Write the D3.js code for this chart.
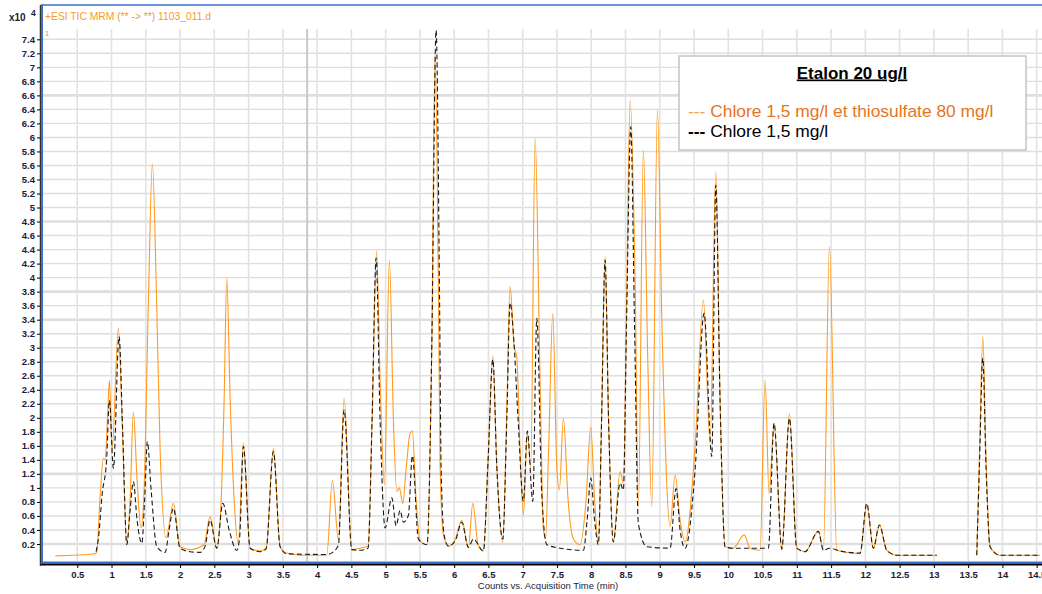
<!DOCTYPE html>
<html>
<head>
<meta charset="utf-8">
<script src="https://cdn.jsdelivr.net/npm/d3@7"></script>
<style>
body{margin:0;background:#fff;}
svg{display:block;font-family:"Liberation Sans",Arial,sans-serif;}
</style>
</head>
<body>
<script>
//chromatogram points: [time (min), counts x10^4]
var orangePoints = [[0.18,0.03],[0.76,0.06],[0.785,0.09],[0.833,0.87],[0.881,1.42],[0.906,1.40],[0.94,1.97],[0.969,2.54],[1.008,1.54],[1.1,3.28],[1.154,1.97],[1.223,0.19],[1.271,0.83],[1.319,2.08],[1.373,1.11],[1.431,0.43],[1.475,0.97],[1.538,3.66],[1.596,5.62],[1.661,3.54],[1.709,1.54],[1.796,0.29],[1.903,0.78],[2.0,0.16],[2.147,0.12],[2.351,0.19],[2.438,0.59],[2.536,0.14],[2.6,0.83],[2.643,2.25],[2.682,3.99],[2.73,2.3],[2.789,0.83],[2.851,0.21],[2.924,1.64],[3.022,0.14],[3.168,0.1],[3.256,0.14],[3.362,1.56],[3.46,0.16],[3.558,0.07],[3.752,0.04],[4.141,0.04],[4.223,1.11],[4.311,0.26],[4.394,2.28],[4.506,0.12],[4.627,0.14],[4.744,0.17],[4.802,1.97],[4.868,4.38],[4.919,2.54],[4.982,1.05],[5.055,4.25],[5.113,1.98],[5.163,0.95],[5.2,1.0],[5.25,0.78],[5.298,1.26],[5.357,1.78],[5.39,1.81],[5.444,0.83],[5.503,0.24],[5.605,0.19],[5.673,3.0],[5.721,7.21],[5.77,3.84],[5.795,1.31],[5.843,0.33],[5.916,0.17],[6.014,0.26],[6.111,0.54],[6.208,0.15],[6.272,0.78],[6.349,0.19],[6.426,0.1],[6.495,1.4],[6.564,2.88],[6.622,1.31],[6.709,0.22],[6.768,2.14],[6.816,3.88],[6.874,3.03],[6.914,2.86],[6.962,1.54],[7.01,0.61],[7.068,1.78],[7.118,1.3],[7.181,5.99],[7.254,2.52],[7.302,0.41],[7.334,0.27],[7.378,1.54],[7.439,3.49],[7.497,1.31],[7.535,0.97],[7.594,1.99],[7.662,0.83],[7.74,0.27],[7.837,0.19],[7.925,0.83],[7.993,1.87],[8.049,0.83],[8.104,0.21],[8.151,1.97],[8.202,4.30],[8.253,1.97],[8.323,0.23],[8.421,1.23],[8.469,1.07],[8.516,3.68],[8.567,6.53],[8.64,3.97],[8.688,0.73],[8.761,5.82],[8.822,2.97],[8.884,0.73],[8.966,6.39],[9.034,3.25],[9.151,0.45],[9.224,1.18],[9.297,0.54],[9.37,0.23],[9.516,1.59],[9.637,3.68],[9.735,1.64],[9.818,5.51],[9.88,2.25],[9.953,0.16],[10.07,0.14],[10.233,0.33],[10.318,0.14],[10.464,0.11],[10.537,2.54],[10.595,0.92],[10.668,1.92],[10.781,0.11],[10.892,2.06],[10.999,0.14],[11.12,0.09],[11.315,0.38],[11.388,0.11],[11.476,4.44],[11.583,0.11],[11.923,0.06],[12.021,0.76],[12.117,0.14],[12.205,0.47],[12.313,0.11],[12.459,0.04],[13.042,0.04],[13.3,null],[13.626,0.04],[13.667,1.54],[13.714,3.16],[13.762,1.4],[13.82,0.16],[13.966,0.04],[14.55,0.04]];

var blackPoints = [[0.775,0.09],[0.811,0.3],[0.862,0.9],[0.928,1.4],[0.969,2.25],[1.027,1.28],[1.11,3.16],[1.162,1.83],[1.223,0.19],[1.271,0.68],[1.319,1.09],[1.373,0.54],[1.442,0.21],[1.483,0.83],[1.523,1.66],[1.578,0.97],[1.661,0.16],[1.782,0.08],[1.84,0.4],[1.903,0.71],[2.0,0.14],[2.147,0.09],[2.293,0.08],[2.366,0.17],[2.438,0.54],[2.536,0.14],[2.624,0.78],[2.716,0.4],[2.828,0.11],[2.87,0.3],[2.924,1.59],[3.022,0.14],[3.168,0.09],[3.256,0.13],[3.362,1.52],[3.46,0.16],[3.558,0.06],[4.141,0.05],[4.238,0.09],[4.311,0.19],[4.394,2.11],[4.506,0.12],[4.627,0.11],[4.744,0.14],[4.802,1.97],[4.861,4.28],[4.919,1.97],[4.992,0.43],[5.09,0.86],[5.153,0.46],[5.211,0.68],[5.259,0.51],[5.332,0.61],[5.39,1.46],[5.478,0.27],[5.605,0.19],[5.673,3.0],[5.736,7.53],[5.787,3.68],[5.809,1.31],[5.853,0.33],[5.916,0.17],[6.014,0.24],[6.111,0.51],[6.208,0.15],[6.28,0.27],[6.426,0.1],[6.495,1.4],[6.564,2.83],[6.622,1.31],[6.709,0.27],[6.768,1.97],[6.816,3.64],[6.874,3.05],[6.933,1.97],[7.01,0.81],[7.068,1.81],[7.147,0.81],[7.206,3.42],[7.279,0.9],[7.352,0.19],[7.546,0.14],[7.886,0.11],[7.94,0.54],[7.993,1.14],[8.049,0.54],[8.104,0.19],[8.151,1.97],[8.202,4.25],[8.253,1.97],[8.323,0.23],[8.421,1.07],[8.469,0.97],[8.516,3.4],[8.577,6.15],[8.633,3.25],[8.688,0.49],[8.811,0.16],[9.151,0.14],[9.238,0.99],[9.297,0.4],[9.37,0.14],[9.516,1.26],[9.647,3.49],[9.759,1.45],[9.818,5.32],[9.88,2.25],[9.953,0.16],[10.07,0.14],[10.585,0.14],[10.668,1.92],[10.781,0.13],[10.892,1.99],[10.999,0.14],[11.12,0.09],[11.315,0.38],[11.388,0.11],[11.476,0.14],[11.632,0.1],[11.923,0.07],[12.021,0.78],[12.117,0.14],[12.205,0.47],[12.313,0.11],[12.459,0.04],[13.042,0.04],[13.3,null],[13.626,0.04],[13.667,1.4],[13.714,2.85],[13.762,1.26],[13.82,0.16],[13.966,0.04],[14.55,0.04]];

//tick labels
var xTicks = [0.5,1,1.5,2,2.5,3,3.5,4,4.5,5,5.5,6,6.5,7,7.5,8,8.5,9,9.5,10,10.5,11,11.5,12,12.5,13,13.5,14,14.5];
var yTicks = [0.2,0.4,0.6,0.8,1,1.2,1.4,1.6,1.8,2,2.2,2.4,2.6,2.8,3,3.2,3.4,3.6,3.8,4,4.2,4.4,4.6,4.8,5,5.2,5.4,5.6,5.8,6,6.2,6.4,6.6,6.8,7,7.2,7.4];
var thickY = [0.2,1.2,3.4,3.8,4.8,6.6];

//legend texts
var legendTitle = "Etalon 20 ug/l";
var seriesNames = ["Chlore 1,5 mg/l et thiosulfate 80 mg/l", "Chlore 1,5 mg/l"];

//SVG dimension variables
var w = 1042, h = 594;
var plotL = 43, plotR = 1042, plotT = 29, plotB = 561;

var svg = d3.select("body")
    .append("svg")
    .attr("width", w)
    .attr("height", h);

var x = d3.scaleLinear().domain([0, 14]).range([43, 1002.4]);
var y = d3.scaleLinear().domain([0, 7.4]).range([558, 39.3]);

//grid
var grid = svg.append("g");
grid.selectAll(".gy").data(yTicks).join("line")
    .attr("x1", plotL).attr("x2", plotR)
    .attr("y1", function(d){ return y(d); })
    .attr("y2", function(d){ return y(d); })
    .attr("stroke", "#dedede")
    .attr("stroke-width", function(d){ return thickY.indexOf(d) >= 0 ? 2.6 : 1.4; });
grid.selectAll(".gx").data(xTicks).join("line")
    .attr("x1", function(d){ return x(d); })
    .attr("x2", function(d){ return x(d); })
    .attr("y1", plotT).attr("y2", plotB)
    .attr("stroke", "#e2e2e2")
    .attr("stroke-width", 1.6);
//darker marker line
grid.append("line")
    .attr("x1", x(3.855)).attr("x2", x(3.855))
    .attr("y1", plotT).attr("y2", plotB)
    .attr("stroke", "#c9c9c9").attr("stroke-width", 2);

//traces
svg.append("clipPath").attr("id", "clip")
    .append("rect")
    .attr("x", plotL).attr("y", plotT)
    .attr("width", plotR - plotL).attr("height", plotB - plotT);

var line = d3.line()
    .defined(function(d){ return d[1] !== null; })
    .x(function(d){ return x(d[0]); })
    .y(function(d){ return y(d[1]); })
    .curve(d3.curveMonotoneX);

svg.append("path")
    .datum(orangePoints)
    .attr("clip-path", "url(#clip)")
    .attr("d", line)
    .attr("fill", "none")
    .attr("stroke", "#ff9a1e")
    .attr("stroke-width", 1.1);

svg.append("path")
    .datum(blackPoints)
    .attr("clip-path", "url(#clip)")
    .attr("d", line)
    .attr("fill", "none")
    .attr("stroke", "#1a1a1a")
    .attr("stroke-width", 1.1)
    .attr("stroke-dasharray", "5,3");

//frame
svg.append("line").attr("x1", 41).attr("x2", w).attr("y1", 5).attr("y2", 5)
    .attr("stroke", "#3d6fc9").attr("stroke-width", 1.6);
svg.append("line").attr("x1", 40.3).attr("x2", 40.3).attr("y1", 5).attr("y2", 566)
    .attr("stroke", "#000").attr("stroke-width", 1);
svg.append("line").attr("x1", 42).attr("x2", 42).attr("y1", 4.2).attr("y2", 563)
    .attr("stroke", "#3d6fc9").attr("stroke-width", 2);
svg.append("line").attr("x1", 41).attr("x2", w).attr("y1", 562.5).attr("y2", 562.5)
    .attr("stroke", "#3d6fc9").attr("stroke-width", 2);
svg.append("line").attr("x1", 41).attr("x2", w).attr("y1", 564.5).attr("y2", 564.5)
    .attr("stroke", "#000").attr("stroke-width", 2);

//axes
var xAxis = svg.append("g")
    .attr("transform", "translate(0,565)")
    .call(d3.axisBottom(x).tickValues(xTicks).tickSize(3).tickPadding(3).tickFormat(d3.format("~g")));
var yAxis = svg.append("g")
    .attr("transform", "translate(40,0)")
    .call(d3.axisLeft(y).tickValues(yTicks).tickSize(3).tickPadding(2).tickFormat(d3.format("~g")));
[xAxis, yAxis].forEach(function(a){
    a.select(".domain").remove();
    a.selectAll(".tick line").attr("stroke", "#000");
    a.selectAll(".tick text")
        .attr("fill", "#1c1c38")
        .style("font-family", "'Liberation Sans',Arial,sans-serif")
        .style("font-size", "9.5px")
        .style("font-weight", "bold");
});

svg.append("text")
    .attr("x", 548).attr("y", 589)
    .attr("text-anchor", "middle")
    .style("font-size", "9.5px")
    .attr("fill", "#1c1c38")
    .text("Counts vs. Acquisition Time (min)");

//header
svg.append("text").attr("x", 45).attr("y", 19.5)
    .style("font-size", "10.3px").attr("fill", "#f49a2c")
    .text("+ESI TIC MRM (** -> **) 1103_011.d");
svg.append("text").attr("x", 9).attr("y", 21)
    .style("font-size", "10px").style("font-weight", "bold").attr("fill", "#1c1c38")
    .text("x10");
svg.append("text").attr("x", 31).attr("y", 16)
    .style("font-size", "8.5px").style("font-weight", "bold").attr("fill", "#1c1c38")
    .text("4");
svg.append("text").attr("x", 45).attr("y", 36)
    .style("font-size", "7px").attr("fill", "#9a9a9a")
    .text("1");

//legend
var legend = svg.append("g");
legend.append("rect")
    .attr("x", 679).attr("y", 56)
    .attr("width", 347).attr("height", 94)
    .attr("fill", "#fff")
    .attr("stroke", "#c4c4c4")
    .attr("stroke-width", 1.5);
legend.append("text")
    .attr("x", 852).attr("y", 78.5)
    .attr("text-anchor", "middle")
    .style("font-size", "17px").style("font-weight", "bold")
    .style("text-decoration", "underline")
    .attr("fill", "#000")
    .text(legendTitle);
var t1 = legend.append("text").attr("x", 688).attr("y", 116.5)
    .style("font-size", "17.4px").attr("fill", "#e8741c");
t1.append("tspan").attr("fill", "#f0a060").text("--- ");
t1.append("tspan").text(seriesNames[0]);
var t2 = legend.append("text").attr("x", 688).attr("y", 137)
    .style("font-size", "17.4px").attr("fill", "#000");
t2.append("tspan").style("font-weight", "bold").text("--- ");
t2.append("tspan").text(seriesNames[1]);
</script>
</body>
</html>
